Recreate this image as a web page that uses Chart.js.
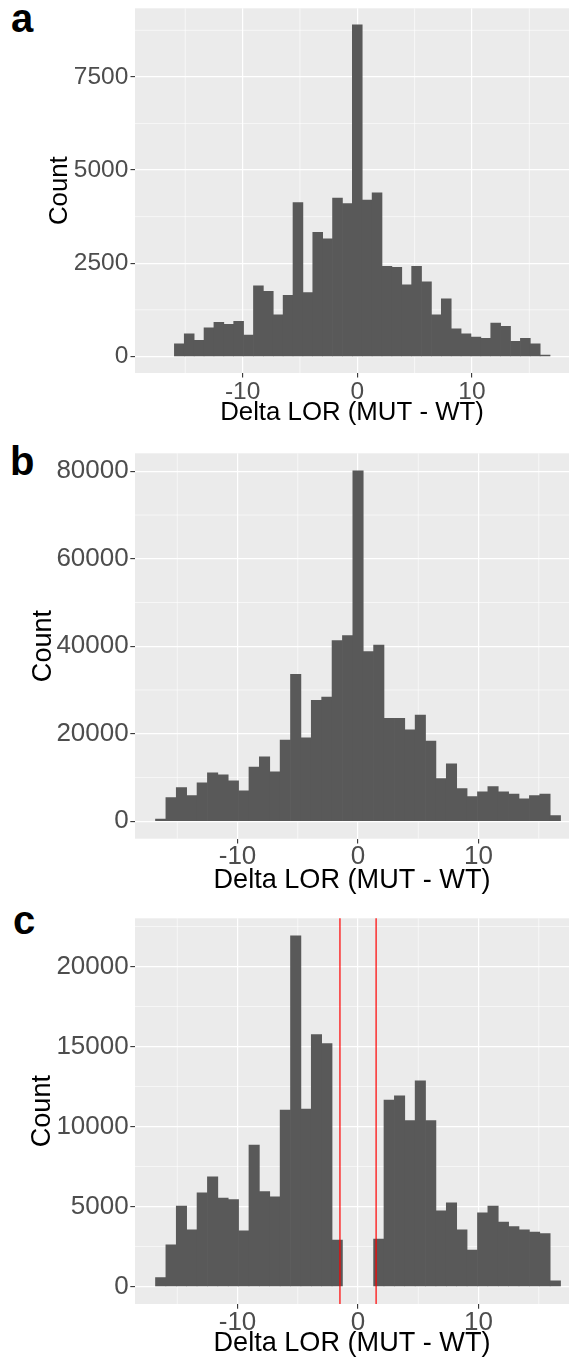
<!DOCTYPE html>
<html>
<head>
<meta charset="utf-8">
<title>Delta LOR histograms</title>
<script src="https://cdn.jsdelivr.net/npm/chart.js@4.4.1/dist/chart.umd.min.js"></script>
<style>
    html, body { margin: 0; padding: 0; background: #FFFFFF; }
    body { position: relative; width: 569px; height: 1362px; overflow: hidden; }
    canvas { position: absolute; left: 0; }
    .tag {
        position: absolute;
        font-family: "Liberation Sans", Arial, sans-serif;
        font-weight: bold;
        font-size: 40px;
        line-height: 40px;
        color: #000000;
    }
</style>
</head>
<body>
<div class="tag" style="left: 11px; top: -2px;">a</div>
<div class="tag" style="left: 10px; top: 441px;">b</div>
<div class="tag" style="left: 13px; top: 900px;">c</div>
<canvas id="panelA" width="569" height="460" style="top: -20px;"></canvas>
<canvas id="panelB" width="569" height="470" style="top: 430px;"></canvas>
<canvas id="panelC" width="569" height="467" style="top: 895px;"></canvas>
<script>
// Tâm các bin (độ rộng bin 0.862), dùng chung cho cả 3 histogram
const binCenters = [
    -16.378, -15.516, -14.654, -13.792, -12.93, -12.068, -11.206, -10.344, -9.482, -8.62,
    -7.758, -6.896, -6.034, -5.172, -4.31, -3.448, -2.586, -1.724, -0.862, 0,
    0.862, 1.724, 2.586, 3.448, 4.31, 5.172, 6.034, 6.896, 7.758, 8.62,
    9.482, 10.344, 11.206, 12.068, 12.93, 13.792, 14.654, 15.516, 16.378
];

// Số đếm mỗi bin
const countsA = [
    0, 340, 608, 429, 769, 912, 858, 939, 572, 1895,
    1743, 1117, 1636, 4130, 1716, 3326, 3156, 4246, 4103, 8895,
    4193, 4389, 2414, 2387, 1922, 2414, 2003, 1117, 1547, 742,
    608, 519, 483, 894, 805, 402, 483, 340, 36
];
const countsB = [
    458, 5417, 7706, 5875, 8775, 11064, 10606, 9232, 6943, 12361,
    14726, 11292, 18541, 33572, 19075, 27621, 28384, 41278, 42423, 80115,
    38760, 40286, 23500, 23500, 20906, 24263, 18312, 9766, 13124, 7477,
    5646, 6714, 7935, 6714, 6180, 5112, 5875, 6180, 1297
];
const countsC = [
    562, 2604, 5020, 3541, 5853, 6853, 5520, 5437, 3479, 8832,
    5937, 5603, 11019, 21913, 11082, 15747, 15185, 2895, 0, 0,
    0, 2958, 11644, 11915, 10373, 12852, 10373, 4728, 5228, 3541,
    2270, 4603, 5020, 4020, 3749, 3541, 3395, 3312, 354
];

// Ngưỡng cắt (đường đỏ) của panel c
const cutoffsC = [-1.5, 1.5];

// Vạch chia trục
const xMajor = [-10, 0, 10];
const xMinor = [-15, -5, 5, 15];
const yMajorA = [0, 2500, 5000, 7500];
const yMinorA = [1250, 3750, 6250, 8750];
const yMajorB = [0, 20000, 40000, 60000, 80000];
const yMinorB = [10000, 30000, 50000, 70000];
const yMajorC = [0, 5000, 10000, 15000, 20000];
const yMinorC = [2500, 7500, 12500, 17500, 22500];

const FONT = '"Liberation Sans", Arial, sans-serif';

// Nền xám + lưới phụ kiểu ggplot, và các đường thẳng đứng vẽ đè lên cột
function makePanelPlugin(yMinor, cutoffs) {
    return {
        id: 'panelBackground',
        beforeDraw(chart) {
            const { ctx, chartArea: area, scales } = chart;
            ctx.save();
            ctx.fillStyle = '#EBEBEB';
            ctx.fillRect(area.left, area.top, area.right - area.left, area.bottom - area.top);
            ctx.strokeStyle = '#FFFFFF';
            ctx.lineWidth = 0.6;
            ctx.beginPath();
            xMinor.forEach(v => {
                const px = scales.x.getPixelForValue(v);
                ctx.moveTo(px, area.top);
                ctx.lineTo(px, area.bottom);
            });
            yMinor.forEach(v => {
                const py = scales.y.getPixelForValue(v);
                ctx.moveTo(area.left, py);
                ctx.lineTo(area.right, py);
            });
            ctx.stroke();
            ctx.restore();
        },
        afterDatasetsDraw(chart) {
            if (!cutoffs.length) return;
            const { ctx, chartArea: area, scales } = chart;
            ctx.save();
            ctx.strokeStyle = '#FF0000';
            ctx.lineWidth = 1.2;
            ctx.beginPath();
            cutoffs.forEach(v => {
                const px = scales.x.getPixelForValue(v);
                ctx.moveTo(px, area.top);
                ctx.lineTo(px, area.bottom);
            });
            ctx.stroke();
            ctx.restore();
        }
    };
}

function drawHistogram(canvasId, counts, p) {
    const ctx = document.getElementById(canvasId);
    return new Chart(ctx, {
        type: 'bar',
        data: {
            datasets: [{
                data: binCenters.map((x, i) => ({ x: x, y: counts[i] })),
                backgroundColor: '#595959',
                borderWidth: 0,
                // bin rỗng không được nở thêm, để không hiện vạch mỏng ở đáy
                inflateAmount: c => (c.raw && c.raw.y > 0 ? 0.33 : 0),
                barPercentage: 1,
                categoryPercentage: 1
            }]
        },
        options: {
            responsive: false,
            animation: false,
            layout: { padding: { top: p.padTop, right: 0, bottom: 0, left: 0 } },
            plugins: {
                legend: { display: false },
                tooltip: { enabled: false }
            },
            scales: {
                x: {
                    type: 'linear',
                    offset: false,
                    min: p.xMin,
                    max: p.xMax,
                    afterBuildTicks: scale => { scale.ticks = xMajor.map(v => ({ value: v })); },
                    afterFit: scale => { scale.height = p.xAxisHeight; },
                    grid: {
                        offset: false,
                        color: '#FFFFFF',
                        lineWidth: 1.2,
                        tickColor: '#333333',
                        tickWidth: 1.1,
                        tickLength: p.tickLen
                    },
                    border: { display: false },
                    ticks: {
                        color: '#4D4D4D',
                        font: { family: FONT, size: p.tickSize, lineHeight: 1 },
                        padding: p.xTickPad,
                        maxRotation: 0,
                        autoSkip: false,
                        callback: v => String(v)
                    },
                    title: {
                        display: true,
                        text: 'Delta LOR (MUT - WT)',
                        color: '#000000',
                        font: { family: FONT, size: p.titleSize, lineHeight: 1 },
                        padding: { top: 0, bottom: p.xTitlePad }
                    }
                },
                y: {
                    min: p.yMin,
                    max: p.yMax,
                    afterBuildTicks: scale => { scale.ticks = p.yMajor.map(v => ({ value: v })); },
                    afterFit: scale => { scale.width = 135; },
                    grid: {
                        color: '#FFFFFF',
                        lineWidth: 1.2,
                        tickColor: '#333333',
                        tickWidth: 1.1,
                        tickLength: p.tickLen
                    },
                    border: { display: false },
                    ticks: {
                        color: '#4D4D4D',
                        font: { family: FONT, size: p.tickSize, lineHeight: 1 },
                        padding: p.yTickPad,
                        autoSkip: false,
                        callback: v => String(v)
                    },
                    title: {
                        display: true,
                        text: 'Count',
                        color: '#000000',
                        font: { family: FONT, size: p.titleSize, lineHeight: 1 },
                        padding: { top: p.yTitlePad, bottom: 0 }
                    }
                }
            }
        },
        plugins: [makePanelPlugin(p.yMinor, p.cutoffs)]
    });
}

document.addEventListener("DOMContentLoaded", function () {
    drawHistogram('panelA', countsA, {
        padTop: 28.3, xAxisHeight: 67,
        xMin: -19.38, xMax: 18.46, yMin: -445, yMax: 9340,
        yMajor: yMajorA, yMinor: yMinorA, cutoffs: [],
        tickSize: 24.5, titleSize: 25.8, tickLen: 4.5,
        xTickPad: 2.45, yTickPad: 2.2, xTitlePad: 14.1, yTitlePad: 47.1
    });
    drawHistogram('panelB', countsB, {
        padTop: 23.3, xAxisHeight: 61.3,
        xMin: -18.51, xMax: 17.51, yMin: -4006, yMax: 84120,
        yMajor: yMajorB, yMinor: yMinorB, cutoffs: [],
        tickSize: 26, titleSize: 27.1, tickLen: 4.7,
        xTickPad: 0.8, yTickPad: 1.6, xTitlePad: 5.65, yTitlePad: 29.75
    });
    drawHistogram('panelC', countsC, {
        padTop: 23.3, xAxisHeight: 58,
        xMin: -18.51, xMax: 17.51, yMin: -1096, yMax: 23010,
        yMajor: yMajorC, yMinor: yMinorC, cutoffs: cutoffsC,
        tickSize: 26, titleSize: 27.1, tickLen: 4.7,
        xTickPad: 1.1, yTickPad: 1.6, xTitlePad: 5.15, yTitlePad: 28.65
    });
});
</script>
</body>
</html>
